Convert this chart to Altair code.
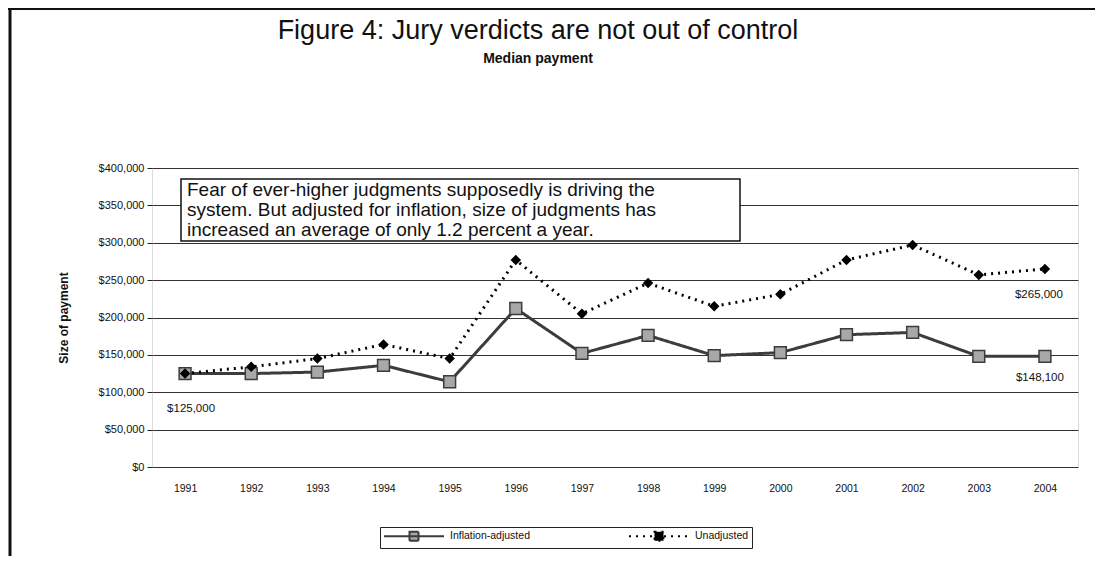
import altair as alt
import pandas as pd

years = list(range(1991, 2005))
adjusted = [125000, 125000, 127000, 136000, 114000, 212000, 152000, 176000,
            149000, 153000, 177000, 180000, 148000, 148100]
unadjusted = [125000, 134000, 145000, 164000, 145000, 277000, 205000, 246000,
              215000, 231000, 277000, 297000, 257000, 265000]
series_names = ["Inflation-adjusted", "Unadjusted"]
y_ticks = [0, 50000, 100000, 150000, 200000, 250000, 300000, 350000, 400000]
title_text = "Figure 4: Jury verdicts are not out of control"
subtitle_text = "Median payment"
note_lines = ["Fear of ever-higher judgments supposedly is driving the",
              "system. But adjusted for inflation, size of judgments has",
              "increased an average of only 1.2 percent a year."]

df = pd.DataFrame({
    "year": [str(y) for y in years] * 2,
    "value": adjusted + unadjusted,
    "series": [series_names[0]] * len(years) + [series_names[1]] * len(years),
})

FONT = "Liberation Sans"
W, H = 926, 299

x = alt.X("year:O", title=None,
          axis=alt.Axis(labelAngle=0, ticks=False, domain=False, labelPadding=16,
                        labelFontSize=10.5, labelColor="#111", labelFont=FONT))
y = alt.Y("value:Q", title="Size of payment",
          scale=alt.Scale(domain=[0, 400000], nice=False),
          axis=alt.Axis(values=y_ticks, format="$,.0f", grid=True, gridColor="#333333",
                        gridWidth=1, domain=False, tickSize=5, tickColor="#222",
                        labelFontSize=11, labelColor="#111", labelFont=FONT,
                        labelPadding=3, titleFont=FONT, titleFontSize=12,
                        titleFontWeight="bold", titleColor="#111", titlePadding=28))

stroke_scale = alt.Scale(domain=series_names, range=["#3c3c3c", "#000000"])
fill_scale = alt.Scale(domain=series_names, range=["#a8a8a8", "#000000"])
dash_scale = alt.Scale(domain=series_names, range=[[1, 0], [2, 5]])

key_path = "M-6,0 L6,0 M-0.9,-0.9 L0.9,-0.9 L0.9,0.9 L-0.9,0.9 Z"
legend = alt.Legend(title=None, orient="none", legendX=228, legendY=359,
                    direction="horizontal", strokeColor="#222", padding=3,
                    labelFontSize=10.5, labelFont=FONT, labelColor="#111",
                    symbolType=key_path, symbolSize=100, symbolStrokeWidth=2,
                    symbolOffset=25, labelOffset=30, columnPadding=95)

base = alt.Chart(df)

lines = base.mark_line(strokeWidth=3).encode(
    x=x, y=y,
    stroke=alt.Stroke("series:N", scale=stroke_scale, legend=legend),
    strokeDash=alt.StrokeDash("series:N", scale=dash_scale, legend=legend),
    strokeWidth=alt.condition(alt.datum.series == "Unadjusted", alt.value(2.5), alt.value(3)),
)

pts_adj = base.transform_filter(alt.datum.series == series_names[0]).mark_point(
    filled=True, shape="square", size=140, strokeWidth=1.5, opacity=1
).encode(
    x=x, y=y,
    fill=alt.Fill("series:N", scale=fill_scale, legend=legend),
    stroke=alt.Stroke("series:N", scale=stroke_scale, legend=legend),
)
pts_un = base.transform_filter(alt.datum.series == series_names[1]).mark_point(
    filled=True, shape="diamond", size=70, strokeWidth=1.5, opacity=1
).encode(
    x=x, y=y,
    fill=alt.Fill("series:N", scale=fill_scale, legend=legend),
    stroke=alt.Stroke("series:N", scale=stroke_scale, legend=legend),
)

lab_style = dict(font=FONT, fontSize=11.5, color="#111", align="center", baseline="middle")
lab1 = base.transform_filter(
    (alt.datum.year == "1991") & (alt.datum.series == "Unadjusted")
).mark_text(dy=35, dx=6, **lab_style).encode(x=x, y=y, text=alt.Text("value:Q", format="$,.0f"))
lab2 = base.transform_filter(
    (alt.datum.year == "2004") & (alt.datum.series == "Unadjusted")
).mark_text(dy=26, dx=-6, **lab_style).encode(x=x, y=y, text=alt.Text("value:Q", format="$,.0f"))
lab3 = base.transform_filter(
    (alt.datum.year == "2004") & (alt.datum.series == "Inflation-adjusted")
).mark_text(dy=22, dx=-5, **lab_style).encode(x=x, y=y, text=alt.Text("value:Q", format="$,.0f"))

one = alt.Data(values=[{}])
title_mark = alt.Chart(one).mark_text(
    font=FONT, fontSize=27, color="#111", align="center", baseline="middle"
).encode(x=alt.value(386), y=alt.value(-137), text=alt.value(title_text))
subtitle_mark = alt.Chart(one).mark_text(
    font=FONT, fontSize=14, fontWeight="bold", color="#111", align="center", baseline="middle"
).encode(x=alt.value(386), y=alt.value(-109), text=alt.value(subtitle_text))

note_box = alt.Chart(one).mark_rect(fill="white", stroke="#111", strokeWidth=1.5).encode(
    x=alt.value(29), x2=alt.value(588), y=alt.value(11), y2=alt.value(73))
note_text = alt.Chart(one).mark_text(
    font=FONT, fontSize=19, color="#111", align="left", baseline="top", lineHeight=20
).encode(x=alt.value(35), y=alt.value(13), text=alt.value(note_lines))

frame_left = alt.Chart(one).mark_rule(color="#111", strokeWidth=3).encode(
    x=alt.value(-142), y=alt.value(-160), y2=alt.value(390))
frame_top = alt.Chart(one).mark_rule(color="#111", strokeWidth=2).encode(
    x=alt.value(-144), x2=alt.value(943), y=alt.value(-159))

chart = alt.layer(
    frame_left, frame_top, title_mark, subtitle_mark,
    lines, pts_adj, pts_un, lab1, lab2, lab3, note_box, note_text
).properties(
    width=W, height=H,
    autosize=alt.AutoSizeParams(type="none"),
    padding={"left": 144, "top": 160, "right": 17, "bottom": 89},
).configure_view(stroke="#222", strokeWidth=1).configure(background="white")

chart.save("out.html", embed_options={"renderer": "svg", "actions": False})
